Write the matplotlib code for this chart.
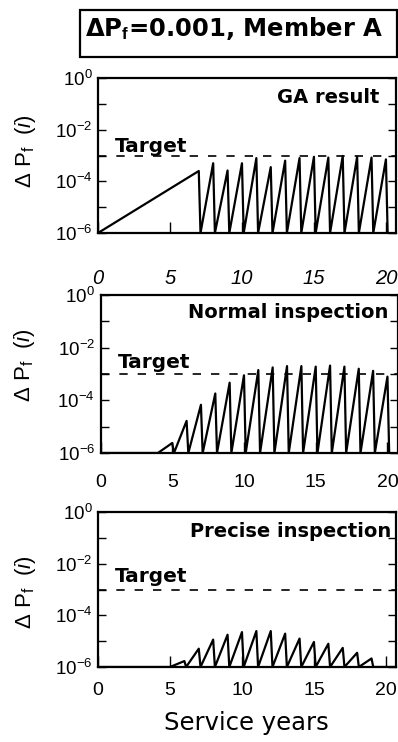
import matplotlib
matplotlib.use('Agg')
import matplotlib.pyplot as plt
import numpy as np
from matplotlib.patches import Rectangle
from matplotlib.ticker import FixedLocator, LogLocator, NullFormatter, FuncFormatter

plt.rcParams['font.family'] = ['Liberation Sans', 'DejaVu Sans']
plt.rcParams['mathtext.fontset'] = 'custom'
plt.rcParams['mathtext.rm'] = 'Liberation Sans'
plt.rcParams['mathtext.it'] = 'Liberation Sans:italic'
plt.rcParams['mathtext.bf'] = 'Liberation Sans:bold'
wide = ['DejaVu Sans']

# data (log10 of delta Pf at each peak)
target = 1e-3
floor = 1e-6
ga_ramp_years = [0, 7]
ga_ramp_log = [-6.0, -3.6]
ga_peak_years = list(range(8, 21))
ga_peak_log = [-3.30, -3.58, -3.30, -3.10, -3.45, -3.20, -3.10, -3.05, -3.08, -3.02, -3.05, -3.08, -3.15]
normal_start = 4
normal_peak_years = list(range(5, 21))
normal_peak_log = [-5.62, -4.78, -4.17, -3.74, -3.33, -3.05, -2.85, -2.75, -2.70, -2.70,
                   -2.72, -2.68, -2.72, -2.80, -2.88, -3.10]
precise_start = 5
precise_peak_years = list(range(6, 20))
precise_peak_log = [-5.77, -5.29, -4.94, -4.75, -4.65, -4.61, -4.61, -4.71, -4.90, -5.03,
                    -5.10, -5.26, -5.45, -5.67]
panel_names = ['GA result', 'Normal inspection', 'Precise inspection']
xticks = [0, 5, 10, 15, 20]


def sawtooth(xs, ys, years, logs, drop=0.12):
    # inspection resets delta Pf right after each peak
    xs = list(xs)
    ys = list(ys)
    for yr, lg in zip(years, logs):
        xs += [yr, yr + drop]
        ys += [10 ** lg, floor]
    return xs, ys


ga_x = list(ga_ramp_years) + [ga_ramp_years[1] + 0.12]
ga_y = [10 ** v for v in ga_ramp_log] + [floor]
ga_x, ga_y = sawtooth(ga_x, ga_y, ga_peak_years, ga_peak_log)
no_x, no_y = sawtooth([0, normal_start], [floor, floor], normal_peak_years, normal_peak_log)
pr_x, pr_y = sawtooth([0, precise_start], [floor, floor], precise_peak_years, precise_peak_log)
pr_x += [20.7]
pr_y += [floor]

W, H = 398, 742
fig = plt.figure(figsize=(W / 100, H / 100), dpi=100)

# axes boxes in pixels: left, top, bottom, right
boxes = [(98, 78, 233, 396), (100.5, 295, 453, 397.5), (98, 512, 667, 396)]
series = [(ga_x, ga_y), (no_x, no_y), (pr_x, pr_y)]
name_pos = [(0.943, 0.935), (0.97, 0.95), (0.983, 0.935)]
target_y = [0.52, 0.538, 0.548]
xpads = [26, 15, 11]
ylab = [(-0.20, 0.53), (-0.214, 0.557), (-0.20, 0.484)]


def ylabfmt(v, p):
    e = int(round(np.log10(v)))
    return '$10^{%d}$' % e if e % 2 == 0 else ''


for i in range(3):
    l, t, b, r = boxes[i]
    ax = fig.add_axes([l / W, 1 - b / H, (r - l) / W, (b - t) / H])
    x, y = series[i]
    ax.plot(x, y, color='black', lw=1.6)
    ax.axhline(target, color='black', lw=1.2, ls=(0, (5, 6)))
    ax.set_yscale('log')
    ax.set_ylim(floor, 1)
    ax.set_xlim(0, 20.7)
    for s in ax.spines.values():
        s.set_linewidth(1.6)
    ax.yaxis.set_major_locator(FixedLocator([10.0 ** k for k in range(-6, 1)]))
    ax.yaxis.set_major_formatter(FuncFormatter(ylabfmt))
    ax.yaxis.set_minor_locator(LogLocator(subs=np.arange(2, 10)))
    ax.yaxis.set_minor_formatter(NullFormatter())
    ax.tick_params(axis='y', which='major', direction='in', length=6, width=1,
                   labelsize=13.5, pad=4, left=True, right=True)
    ax.tick_params(axis='y', which='minor', direction='in', length=3, width=0.8,
                   left=True, right=True)
    ax.set_xticks(xticks, [str(v) for v in xticks],
                  fontstyle='italic' if i == 0 else 'normal')
    ax.tick_params(axis='x', direction='in', length=8, width=1,
                   labelsize=14.5 if i == 0 else 14, pad=xpads[i])
    ax.text(name_pos[i][0], name_pos[i][1], panel_names[i], transform=ax.transAxes,
            ha='right', va='top', fontsize=14, fontweight='bold', family=wide)
    ax.text(0.057, target_y[i], 'Target', transform=ax.transAxes,
            ha='left', va='baseline', fontsize=14.5, fontweight='bold', family=wide)
    ax.set_ylabel(r'Δ P$_{\mathrm{f}}$  ($\mathit{i}$)', fontsize=16)
    ax.yaxis.set_label_coords(ylab[i][0], ylab[i][1])

fig.patches.append(Rectangle((80 / W, 1 - 57 / H), (397 - 80) / W, 47 / H,
                             transform=fig.transFigure, fill=False, lw=1.6, ec='black'))
fig.text(85 / W, 1 - 36 / H, r'ΔP$_{\mathbf{f}}$=0.001, Member A', fontsize=17.5,
         fontweight='bold', va='baseline', ha='left', family=wide)
fig.text(246 / W, 1 - 723 / H, 'Service years', fontsize=17.5, ha='center', va='center',
         family=wide)

fig.savefig('out.png', dpi=100)
